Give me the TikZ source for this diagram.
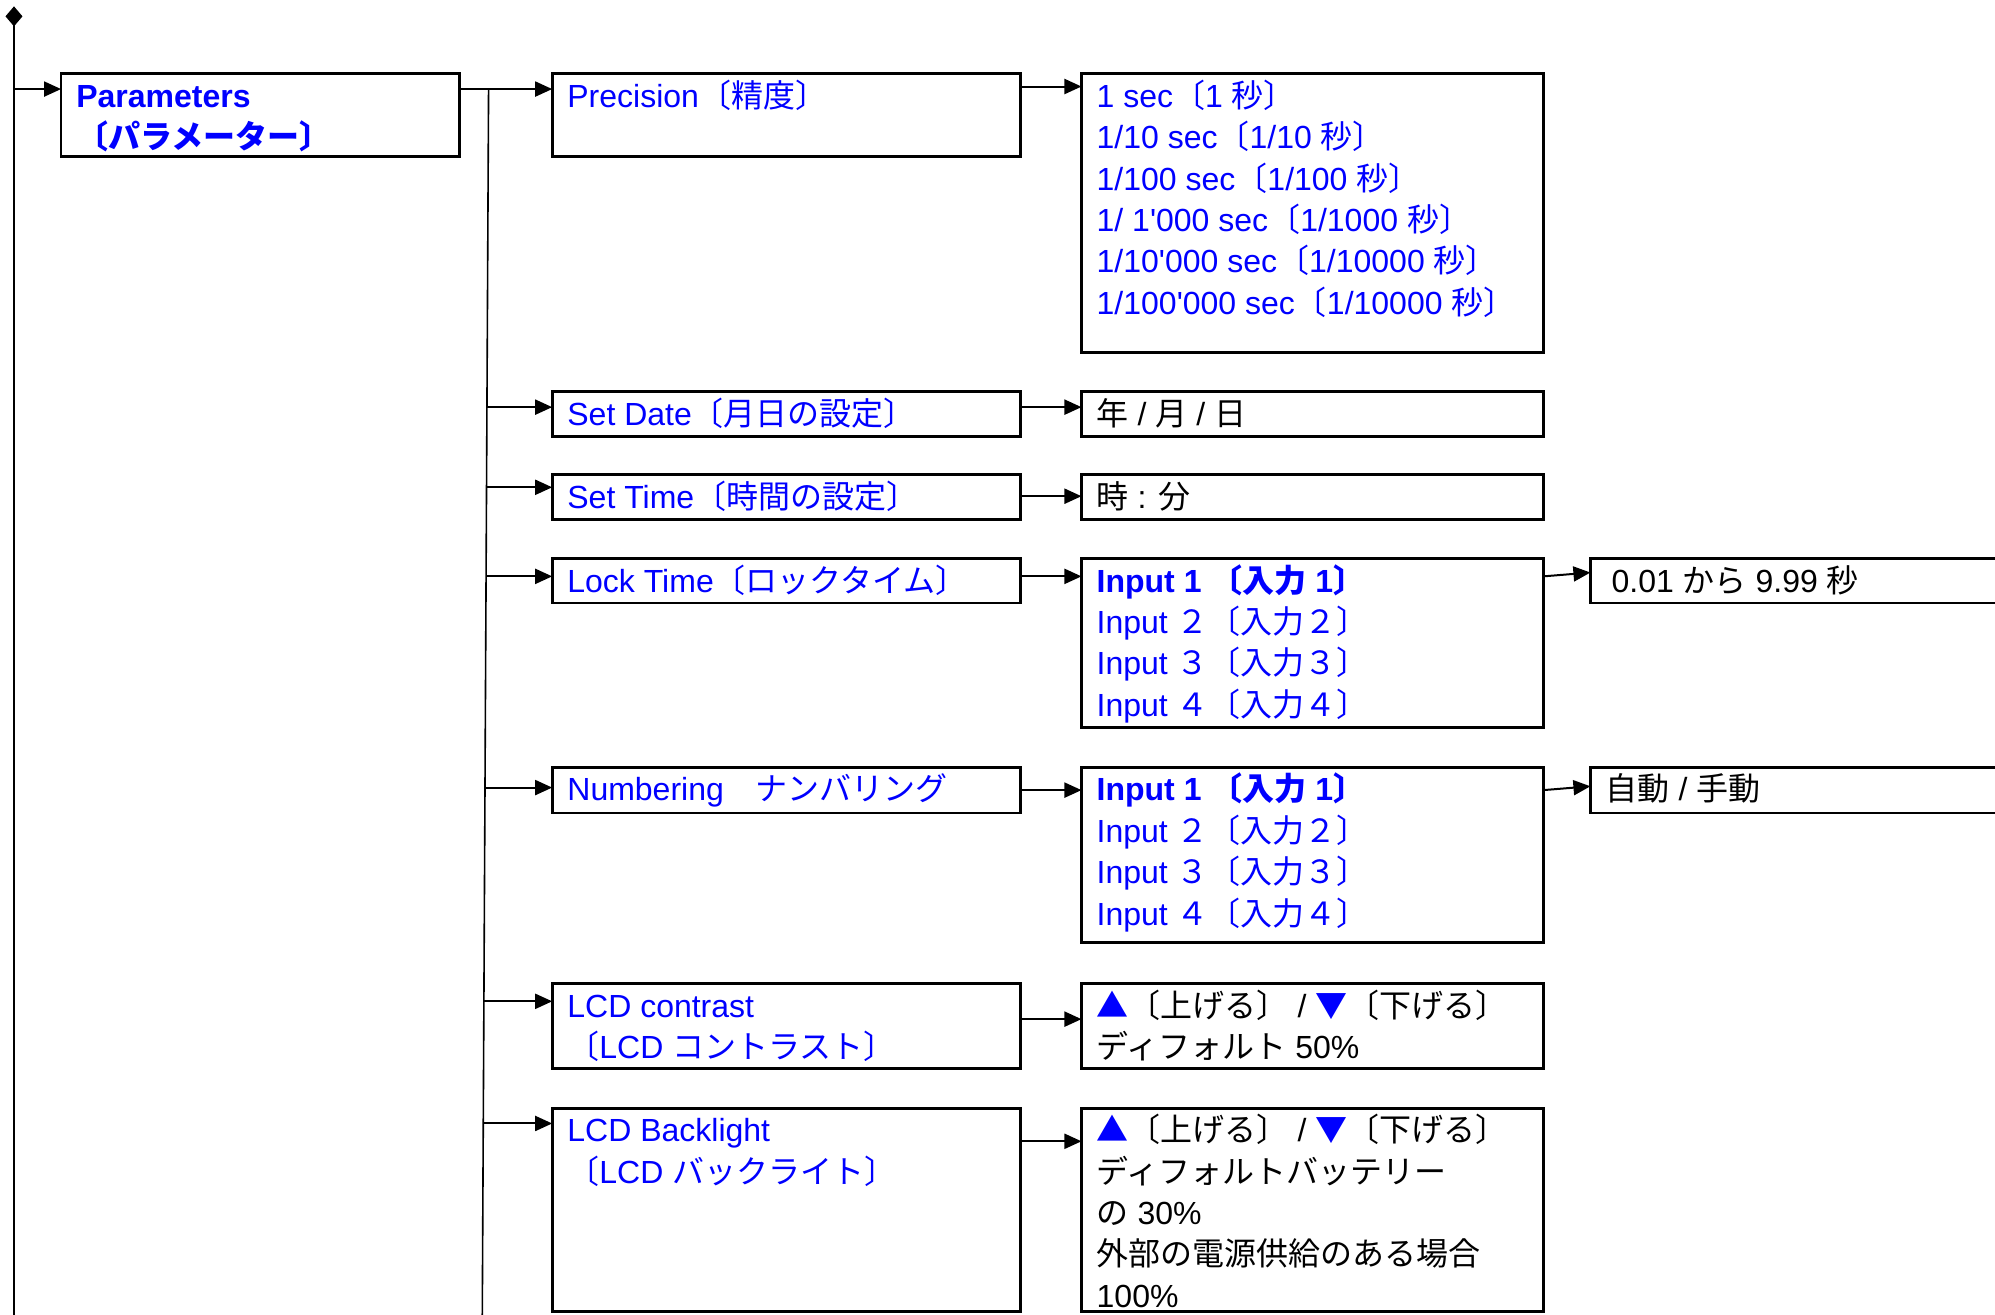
\documentclass[tikz,border=0pt]{standalone}
\usepackage{fontspec}
\newfontfamily\lat{Liberation Sans}
\newfontfamily\jp{Noto Sans CJK JP}
\usetikzlibrary{arrows.meta}
\newdimen\U \U=0.63615pt
\newdimen\xs \xs=7.6pt
\newdimen\ys \ys=2.3pt
\newcommand\J[1]{{\jp #1}}
\newcommand\bt[3]{\parbox[t][\dimexpr#2\U-2\ys\relax][t]{\dimexpr#1\U-2\xs\relax}{\raggedright\strut#3}}
\definecolor{jblue}{RGB}{0,0,255}
\tikzset{
  box/.style={draw=black, line width=1.4pt, anchor=north west, inner xsep=\xs, inner ysep=\ys,
    outer sep=0pt, font=\lat\fontsize{16}{20.7}\selectfont, text=jblue},
  bbox/.style={box, text=black},
  arr/.style={line width=1pt, -{Triangle[length=8.5pt,width=7.5pt]}},
  trunk/.style={line width=1.2pt},
  branch/.style={line width=0.8pt}
}
\begin{document}
\begin{tikzpicture}[x=0.63615pt, y=-0.63615pt]
\useasboundingbox (0,0) rectangle (1568,1033);
\clip (0,0) rectangle (1568,1033);
% boxes
\node[box] (P) at (48,58) {\bt{313}{65}{\textbf{Parameters}\\\J{\bfseries 〔パラメーター〕}}};
\node[box] (Prec) at (434,58) {\bt{368}{65}{Precision\J{〔精度〕}}};
\node[box] (PrecO) at (850,58) {\bt{363}{219}{1 sec\J{〔}1 \J{秒〕}\\
1/10 sec\J{〔}1/10 \J{秒〕}\\
1/100 sec\J{〔}1/100 \J{秒〕}\\
1/ 1'000 sec\J{〔}1/1000 \J{秒〕}\\
1/10'000 sec\J{〔}1/10000 \J{秒〕}\\
1/100'000 sec\J{〔}1/10000 \J{秒〕}}};
\node[box] (SD) at (434,308) {\bt{368}{35}{Set Date\J{〔月日の設定〕}}};
\node[bbox] (SDO) at (850,308) {\bt{363}{35}{\J{年} / \J{月} / \J{日}}};
\node[box] (ST) at (434,373) {\bt{368}{35}{Set Time\J{〔時間の設定〕}}};
\node[bbox] (STO) at (850,373) {\bt{363}{35}{\J{時} : \J{分}}};
\node[box] (LT) at (434,439) {\bt{368}{35}{Lock Time\J{〔ロックタイム〕}}};
\node[box] (LTO) at (850,439) {\bt{363}{133}{\textbf{Input 1 \J{〔入力} 1\J{〕}}\\
Input \J{２〔入力２〕}\\
Input \J{３〔入力３〕}\\
Input \J{４〔入力４〕}}};
\node[bbox] (LTR) at (1250,439) {\bt{400}{35}{\hspace{3pt}0.01 \J{から} 9.99 \J{秒}}};
\node[box] (NU) at (434,603) {\bt{368}{36}{Numbering\J{　ナンバリング}}};
\node[box] (NUO) at (850,603) {\bt{363}{138}{\textbf{Input 1 \J{〔入力} 1\J{〕}}\\
Input \J{２〔入力２〕}\\
Input \J{３〔入力３〕}\\
Input \J{４〔入力４〕}}};
\node[bbox] (NUR) at (1250,603) {\bt{400}{36}{\J{自動} / \J{手動}}};
\node[box] (LC) at (434,773) {\bt{368}{67}{LCD contrast\\\J{〔}LCD \J{コントラスト〕}}};
\node[bbox] (LCO) at (850,773) {\bt{363}{67}{{\color{jblue}\J{▲}}\J{〔上げる〕} / {\color{jblue}\J{▼}}\J{〔下げる〕}\\
\J{ディフォルト} 50\%}};
\node[box] (LB) at (434,871) {\bt{368}{160}{LCD Backlight\\\J{〔}LCD \J{バックライト〕}}};
\node[bbox] (LBO) at (850,871) {\bt{363}{160}{{\color{jblue}\J{▲}}\J{〔上げる〕} / {\color{jblue}\J{▼}}\J{〔下げる〕}\\
\J{ディフォルトバッテリー}\\
\J{の} 30\%\\
\J{外部の電源供給のある場合}\\
100\%}};
% trunk
\coordinate (top) at (11,5);
\coordinate (bot) at (11,1045);
\draw[trunk, {Diamond[length=10pt,width=8.5pt]}-] (top) -- (bot);
\coordinate (t1) at (11,70);
\draw[arr] (t1) -- (t1 -| P.west);
% branch
\coordinate (b0) at (384,70);
\coordinate (bEnd) at (379,1045);
\draw[arr] (P.east |- b0) -- (Prec.west |- b0);
\draw[branch] (b0) -- (bEnd);
\coordinate (bSD) at (383,320);
\coordinate (bST) at (383,383);
\coordinate (bLT) at (382,453);
\coordinate (bNU) at (381,619);
\coordinate (bLC) at (380,787);
\coordinate (bLB) at (380,883);
\draw[arr] (bSD) -- (bSD -| SD.west);
\draw[arr] (bST) -- (bST -| ST.west);
\draw[arr] (bLT) -- (bLT -| LT.west);
\draw[arr] (bNU) -- (bNU -| NU.west);
\draw[arr] (bLC) -- (bLC -| LC.west);
\draw[arr] (bLB) -- (bLB -| LB.west);
% option arrows
\coordinate (yPrec) at (0,68);
\coordinate (ySD) at (0,320);
\coordinate (yST) at (0,390);
\coordinate (yLT) at (0,453);
\coordinate (yNU) at (0,621);
\coordinate (yLC) at (0,801);
\coordinate (yLB) at (0,897);
\draw[arr] (Prec.east |- yPrec) -- (PrecO.west |- yPrec);
\draw[arr] (SD.east |- ySD) -- (SDO.west |- ySD);
\draw[arr] (ST.east |- yST) -- (STO.west |- yST);
\draw[arr] (LT.east |- yLT) -- (LTO.west |- yLT);
\draw[arr] (NU.east |- yNU) -- (NUO.west |- yNU);
\draw[arr] (LC.east |- yLC) -- (LCO.west |- yLC);
\draw[arr] (LB.east |- yLB) -- (LBO.west |- yLB);
% right arrows
\coordinate (yLT2) at (0,450);
\coordinate (yNU2) at (0,618);
\draw[arr] (LTO.east |- yLT) -- (LTR.west |- yLT2);
\draw[arr] (NUO.east |- yNU) -- (NUR.west |- yNU2);
\end{tikzpicture}
\end{document}
